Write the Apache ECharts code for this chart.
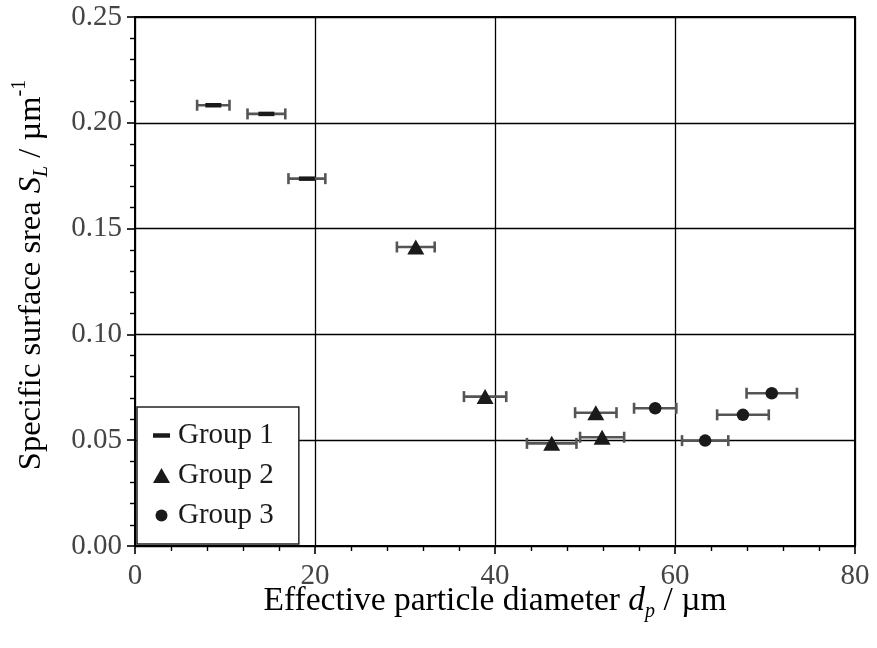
<!DOCTYPE html>
<html>
<head>
<meta charset="utf-8">
<script src="https://cdn.jsdelivr.net/npm/echarts@6/dist/echarts.min.js"></script>
<style>
html,body{margin:0;padding:0;background:#fff;}
#chart{width:877px;height:648px;}
</style>
</head>
<body>
<div id="chart"></div>
<script>
// ---- data ----
var xTicks = [0, 20, 40, 60, 80];
var yTicks = [0.00, 0.05, 0.10, 0.15, 0.20, 0.25];

var group1X = [8.7, 14.6, 19.1];
var group1Y = [0.2083, 0.2042, 0.1736];
var group1Err = [1.8, 2.1, 2.05];

var group2X = [31.2, 38.9, 46.3, 51.2, 51.9];
var group2Y = [0.1413, 0.0706, 0.0485, 0.0630, 0.0514];
var group2Err = [2.1, 2.35, 2.75, 2.3, 2.45];

var group3X = [57.8, 63.35, 67.55, 70.75];
var group3Y = [0.0651, 0.0498, 0.0620, 0.0722];
var group3Err = [2.35, 2.57, 2.87, 2.8];

var seriesNames = ['Group 1', 'Group 2', 'Group 3'];

// ---- build ----
var FONT = 'Liberation Serif';
function pts(xs, ys) { return xs.map(function (x, i) { return [x, ys[i]]; }); }
function errPts(xs, ys, es) { return xs.map(function (x, i) { return [x, ys[i], es[i]]; }); }

var errStyle = { stroke: '#555', lineWidth: 2.6 };
function renderErr(params, api) {
  var x = api.value(0), y = api.value(1), e = api.value(2);
  var a = api.coord([x - e, y]), b = api.coord([x + e, y]);
  var cap = 5.5;
  return {
    type: 'group',
    children: [
      { type: 'line', shape: { x1: a[0], y1: a[1], x2: b[0], y2: b[1] }, style: errStyle },
      { type: 'line', shape: { x1: a[0], y1: a[1] - cap, x2: a[0], y2: a[1] + cap }, style: errStyle },
      { type: 'line', shape: { x1: b[0], y1: b[1] - cap, x2: b[0], y2: b[1] + cap }, style: errStyle }
    ]
  };
}
function errSeries(name, xs, ys, es) {
  return {
    name: name, type: 'custom', renderItem: renderErr,
    data: errPts(xs, ys, es), z: 2, silent: true,
    encode: { x: 0, y: 1 }
  };
}

var markColor = '#1a1a1a';
var dashIcon = 'path://M0,0L17,0L17,4.5L0,4.5Z';
var triIcon = 'path://M8.5,0L17,15L0,15Z';
var circIcon = 'path://M0,0M17,17M2.5,8.5A6,6 0 1,0 14.5,8.5A6,6 0 1,0 2.5,8.5Z';

var chart = echarts.init(document.getElementById('chart'), null, { renderer: 'canvas' });
var option = {
  animation: false,
  backgroundColor: '#fff',
  grid: { left: 135, right: 22, top: 17, bottom: 102, show: true, borderColor: '#000', borderWidth: 2, backgroundColor: 'transparent', z: 3 },
  xAxis: {
    type: 'value', min: xTicks[0], max: xTicks[xTicks.length - 1], interval: 20,
    axisLine: { show: true, onZero: false, lineStyle: { color: '#000', width: 2 } },
    axisTick: { show: true, length: 8, lineStyle: { color: '#000', width: 1.6 } },
    minorTick: { show: true, splitNumber: 5, length: 5, lineStyle: { color: '#000', width: 1.4 } },
    splitLine: { show: true, lineStyle: { color: '#000', width: 1.3 } },
    axisLabel: { margin: 16, fontFamily: FONT, fontSize: 29, color: '#444' }
  },
  yAxis: {
    type: 'value', min: yTicks[0], max: yTicks[yTicks.length - 1], interval: 0.05,
    axisLine: { show: true, onZero: false, lineStyle: { color: '#000', width: 2 } },
    axisTick: { show: true, length: 8, lineStyle: { color: '#000', width: 1.6 } },
    minorTick: { show: true, splitNumber: 5, length: 5, lineStyle: { color: '#000', width: 1.4 } },
    splitLine: { show: true, lineStyle: { color: '#000', width: 1.3 } },
    axisLabel: { margin: 13, fontFamily: FONT, fontSize: 29, color: '#444', formatter: function (v) { return v.toFixed(2); } }
  },
  legend: {
    orient: 'vertical', left: 137, top: 407,
    backgroundColor: '#fff', borderColor: '#222', borderWidth: 1.5,
    padding: [14, 25, 14, 16], itemGap: 11, itemWidth: 17, itemHeight: 17,
    textStyle: { fontFamily: FONT, fontSize: 29, color: '#1a1a1a', padding: [0, 0, 0, 3] },
    data: [
      { name: seriesNames[0], icon: dashIcon },
      { name: seriesNames[1], icon: triIcon },
      { name: seriesNames[2], icon: circIcon }
    ],
    z: 10
  },
  graphic: [
    {
      type: 'text', x: 495, y: 601, z: 10,
      style: {
        text: '{n|Effective particle diameter }{i|d}{sub|p}{n| / µm}',
        align: 'center', verticalAlign: 'middle',
        rich: {
          n: { fontFamily: FONT, fontSize: 33.5, color: '#1a1a1a', lineHeight: 42 },
          i: { fontFamily: FONT, fontSize: 33.5, fontStyle: 'italic', color: '#1a1a1a', lineHeight: 42 },
          sub: { fontFamily: FONT, fontSize: 20, fontStyle: 'italic', color: '#1a1a1a', verticalAlign: 'bottom' }
        }
      }
    },
    {
      type: 'text', x: 31, y: 275, rotation: Math.PI / 2, z: 10,
      style: {
        text: '{n|Specific surface srea }{i|S}{sub|L}{n| / µm}{sup|-1}',
        align: 'center', verticalAlign: 'middle',
        rich: {
          n: { fontFamily: FONT, fontSize: 32.5, color: '#1a1a1a', lineHeight: 42 },
          i: { fontFamily: FONT, fontSize: 32.5, fontStyle: 'italic', color: '#1a1a1a', lineHeight: 42 },
          sub: { fontFamily: FONT, fontSize: 20, fontStyle: 'italic', color: '#1a1a1a', verticalAlign: 'bottom' },
          sup: { fontFamily: FONT, fontSize: 20, color: '#1a1a1a', verticalAlign: 'top' }
        }
      }
    }
  ],
  series: [
    errSeries('err1', group1X, group1Y, group1Err),
    errSeries('err2', group2X, group2Y, group2Err),
    errSeries('err3', group3X, group3Y, group3Err),
    { name: seriesNames[0], type: 'scatter', data: pts(group1X, group1Y), symbol: 'rect', symbolSize: [16, 4.5], itemStyle: { color: markColor, opacity: 1 }, z: 5 },
    { name: seriesNames[1], type: 'scatter', data: pts(group2X, group2Y), symbol: 'triangle', symbolSize: [17, 15], itemStyle: { color: markColor, opacity: 1 }, z: 5 },
    { name: seriesNames[2], type: 'scatter', data: pts(group3X, group3Y), symbol: 'circle', symbolSize: 12.5, itemStyle: { color: markColor, opacity: 1 }, z: 5 }
  ]
};
chart.setOption(option);
</script>
</body>
</html>
